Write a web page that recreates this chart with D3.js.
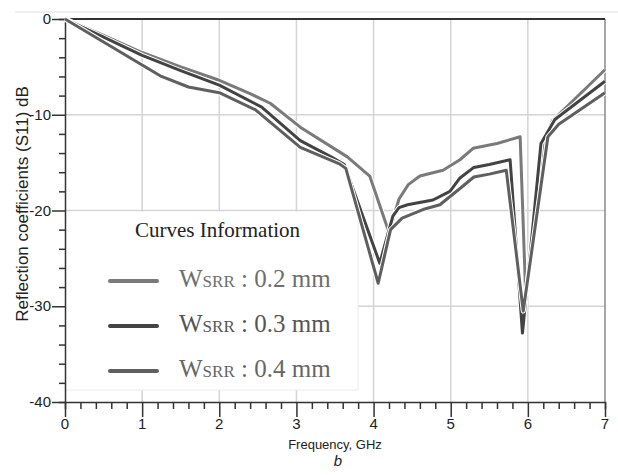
<!DOCTYPE html>
<html>
<head>
<meta charset="utf-8">
<script src="https://cdn.jsdelivr.net/npm/d3@7"></script>
<style>
  body { margin: 0; background: #fff; }
  svg text { font-family: "Liberation Sans", Arial, sans-serif; }
  svg text.serif { font-family: "Liberation Serif", "Times New Roman", serif; }
</style>
</head>
<body>
<div id="chart"></div>
<script>
// data ===================================================================
let freq02 = [0, 0.5, 1.0, 1.5, 2.0, 2.4, 2.66, 3.05, 3.66, 3.95, 4.2, 4.33, 4.45, 4.6, 4.9, 5.12, 5.29, 5.6, 5.9, 5.97, 6.2, 6.32, 7];
let s11_02 = [0, -1.7, -3.5, -5.0, -6.4, -7.8, -8.8, -11.3, -14.4, -16.4, -22.3, -18.8, -17.3, -16.4, -15.8, -14.7, -13.5, -13.0, -12.3, -28.4, -12.8, -10.6, -5.3];

let freq03 = [0, 0.5, 1.0, 1.5, 2.0, 2.55, 3.05, 3.45, 3.62, 4.08, 4.25, 4.33, 4.44, 4.77, 4.99, 5.12, 5.3, 5.5, 5.77, 5.93, 6.17, 6.35, 7];
let s11_03 = [0, -1.9, -3.8, -5.4, -6.9, -9.2, -12.7, -14.4, -15.2, -25.5, -20.6, -19.7, -19.4, -18.9, -18.0, -16.6, -15.5, -15.2, -14.7, -32.8, -13.0, -10.5, -6.5];

let freq04 = [0, 0.5, 1.0, 1.25, 1.6, 2.0, 2.47, 3.05, 3.55, 3.64, 4.06, 4.22, 4.37, 4.64, 4.86, 5.12, 5.3, 5.5, 5.72, 5.94, 6.26, 6.4, 7];
let s11_04 = [0, -2.4, -4.8, -6.0, -7.1, -7.7, -9.5, -13.4, -15.1, -15.6, -27.6, -22.0, -20.8, -19.9, -19.4, -17.7, -16.5, -16.2, -15.8, -30.5, -12.3, -11.0, -7.7];

let widths = ["0.2", "0.3", "0.4"];
let xTicks = [0, 1, 2, 3, 4, 5, 6, 7];
let yTicks = [0, -10, -20, -30, -40];

let series = [
  { w: widths[0], f: freq02, v: s11_02, color: "#7a7a7a", text: "#6e6e6e" },
  { w: widths[1], f: freq03, v: s11_03, color: "#434343", text: "#555" },
  { w: widths[2], f: freq04, v: s11_04, color: "#5f5f5f", text: "#666" }
];

// layout ==================================================================
let width = 618, height = 475;
let plotLeft = 65, plotRight = 605, plotTop = 19, plotBottom = 402;

let svg = d3.select("#chart")
  .append("svg")
  .attr("width", width)
  .attr("height", height);

let x = d3.scaleLinear().domain([0, 7]).range([plotLeft, plotRight]);
let y = d3.scaleLinear().domain([0, -40]).range([plotTop, plotBottom]);

// faint scan border
svg.append("line")
  .attr("x1", 15).attr("x2", width)
  .attr("y1", 12).attr("y2", 12)
  .style("stroke", "#e8e8e8")
  .style("stroke-width", 1.5);

// grid
svg.append("g").selectAll("line")
  .data(xTicks.slice(1, 7))
  .enter().append("line")
  .attr("x1", d => x(d)).attr("x2", d => x(d))
  .attr("y1", plotTop).attr("y2", plotBottom)
  .style("stroke", "#d4d4d4")
  .style("stroke-width", 1.5);

svg.append("g").selectAll("line")
  .data(yTicks.slice(1, 4))
  .enter().append("line")
  .attr("x1", plotLeft).attr("x2", plotRight)
  .attr("y1", d => y(d)).attr("y2", d => y(d))
  .style("stroke", "#d4d4d4")
  .style("stroke-width", 1.5);

// legend box hides the grid underneath
svg.append("rect")
  .attr("x", plotLeft + 1)
  .attr("y", y(-20) + 1)
  .attr("width", 292)
  .attr("height", 390 - y(-20) - 1)
  .attr("fill", "#fff");

svg.append("path")
  .attr("d", "M" + (plotLeft + 1) + ",390H358V" + (y(-20) + 1))
  .attr("fill", "none")
  .style("stroke", "#ececec")
  .style("stroke-width", 1);

// frame
svg.append("line")
  .attr("x1", plotRight).attr("x2", plotRight)
  .attr("y1", plotTop).attr("y2", plotBottom)
  .style("stroke", "#8a8a8a")
  .style("stroke-width", 1.5);

svg.append("line")
  .attr("x1", plotLeft).attr("x2", plotRight)
  .attr("y1", plotTop).attr("y2", plotTop)
  .style("stroke", "#333")
  .style("stroke-width", 2);

// axes
let xAxis = d3.axisBottom(x)
  .tickValues(d3.range(0, 7.001, 0.2))
  .tickSize(7)
  .tickFormat("");

let gx = svg.append("g")
  .attr("transform", "translate(0," + plotBottom + ")")
  .call(xAxis);

gx.selectAll(".tick line")
  .filter(d => Math.abs(d - Math.round(d)) < 1e-6)
  .attr("y2", 15);

let yAxis = d3.axisLeft(y)
  .tickValues(d3.range(0, -40.001, -2))
  .tickSize(6)
  .tickFormat("");

let gy = svg.append("g")
  .attr("transform", "translate(" + plotLeft + ",0)")
  .call(yAxis);

gy.selectAll(".tick line")
  .filter(d => d % 10 === 0)
  .attr("x2", -13);

svg.selectAll(".domain").attr("stroke", "#333").attr("stroke-width", 1.5);
svg.selectAll(".tick line").attr("stroke", "#333").attr("stroke-width", 1.5);

svg.append("g").selectAll("text")
  .data(xTicks)
  .enter().append("text")
  .attr("x", d => x(d))
  .attr("y", 429)
  .attr("text-anchor", "middle")
  .attr("font-size", "15px")
  .attr("fill", "#222")
  .text(d => d);

svg.append("g").selectAll("text")
  .data(yTicks)
  .enter().append("text")
  .attr("x", 51)
  .attr("y", d => y(d) + 5)
  .attr("text-anchor", "end")
  .attr("font-size", "15px")
  .attr("fill", "#222")
  .text(d => d);

svg.append("text")
  .attr("x", 335)
  .attr("y", 449)
  .attr("text-anchor", "middle")
  .attr("font-size", "13px")
  .attr("fill", "#222")
  .text("Frequency, GHz");

svg.append("text")
  .attr("x", 338)
  .attr("y", 466)
  .attr("text-anchor", "middle")
  .attr("font-size", "15px")
  .attr("font-style", "italic")
  .attr("fill", "#222")
  .text("b");

svg.append("text")
  .attr("transform", "translate(28,204) rotate(-90)")
  .attr("text-anchor", "middle")
  .attr("font-size", "17px")
  .attr("fill", "#222")
  .text("Reflection coefficients (S11) dB");

// curves ==================================================================
let line = d3.line()
  .x(d => x(d[0]))
  .y(d => y(d[1]));

let curves = svg.append("g")
  .selectAll("g")
  .data(series)
  .enter()
  .append("g");

curves.append("path")
  .attr("d", d => line(d.f.map((f, i) => [f, d.v[i]])))
  .attr("fill", "none")
  .style("stroke", "#fff")
  .style("stroke-width", 5)
  .style("stroke-linejoin", "round");

curves.append("path")
  .attr("d", d => line(d.f.map((f, i) => [f, d.v[i]])))
  .attr("fill", "none")
  .style("stroke", d => d.color)
  .style("stroke-width", 3)
  .style("stroke-linejoin", "round");

// legend ==================================================================
svg.append("text")
  .attr("class", "serif")
  .attr("x", 135)
  .attr("y", 237)
  .attr("font-size", "21px")
  .attr("fill", "#222")
  .text("Curves Information");

let legend = svg.append("g")
  .selectAll("g")
  .data(series)
  .enter()
  .append("g")
  .attr("transform", (d, i) => "translate(0," + (287 + i * 45) + ")");

legend.append("line")
  .attr("x1", 110).attr("x2", 157)
  .attr("y1", -6).attr("y2", -6)
  .style("stroke", d => d.color)
  .style("stroke-width", 4)
  .style("stroke-linecap", "round");

let label = legend.append("text")
  .attr("class", "serif")
  .attr("x", 179)
  .attr("y", 0)
  .attr("font-size", "25px")
  .attr("fill", d => d.text);

label.append("tspan").text("W");
label.append("tspan").attr("font-size", "17px").text("SRR");
label.append("tspan").text(d => " : " + d.w + " mm");
</script>
</body>
</html>
